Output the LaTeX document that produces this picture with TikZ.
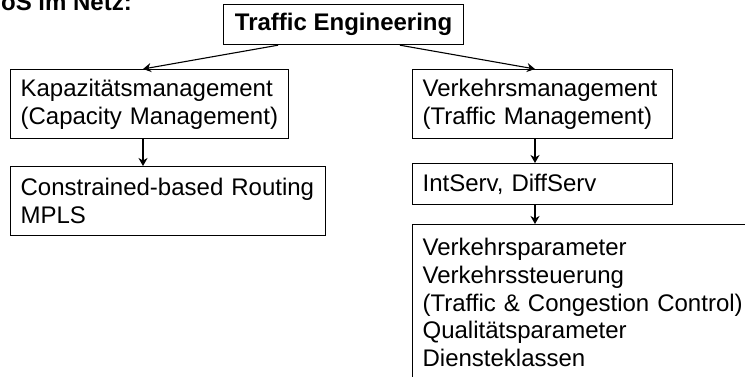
\documentclass[tikz,border=0pt]{standalone}
\usepackage{fontspec}
\setmainfont{Liberation Sans}
\usetikzlibrary{arrows.meta,calc}
\begin{document}
\begin{tikzpicture}[x=1pt,y=-1pt,
  every node/.style={font=\fontsize{24}{27.6}\selectfont},
  box/.style={draw,line width=1.2pt,align=left,inner xsep=10pt,inner ysep=0pt,anchor=north west},
  conn/.style={line width=1.1pt,-{Stealth[length=8pt,width=9pt,inset=2.5pt]}}]
\useasboundingbox (0,0) rectangle (745,377);
\clip (0,0) rectangle (745,377);
% heading
\node[anchor=base east,inner sep=0pt,font=\fontsize{24}{27.6}\selectfont\bfseries] (title) at (132,11) {QoS im Netz:};
% root
\node[draw,line width=1.2pt,anchor=north west,minimum width=240pt,minimum height=40pt,inner sep=0pt,
      font=\fontsize{24}{27.6}\selectfont\bfseries] (te) at (223,4) {Traffic Engineering};
% left branch
\node[box,text width=258pt,minimum height=69pt] (kap) at (10,69)
  {Kapazitätsmanagement\\(Capacity Management)};
\node[box,text width=295pt,minimum height=69pt] (cbr) at (10,166)
  {Constrained-based Routing\\MPLS};
% right branch
\node[box,text width=240pt,minimum height=69pt] (vm) at (412,69)
  {Verkehrsmanagement\\(Traffic Management)};
\node[box,text width=240pt,minimum height=41pt] (int) at (412,163)
  {IntServ, DiffServ};
\node[box,text width=328pt,inner ysep=14pt] (par) at (412,224)
  {Verkehrsparameter\\Verkehrssteuerung\\(Traffic \& Congestion Control)\\Qualitätsparameter\\Diensteklassen};
% connectors
\draw[conn] ($(te.south west)+(55,0)$) -- ($(kap.north west)+(133,0)$);
\draw[conn] ($(te.south west)+(177,0)$) -- ($(vm.north west)+(123,0)$);
\draw[conn] ($(kap.south west)+(133,0)$) -- ($(cbr.north west)+(133,0)$);
\draw[conn] ($(vm.south west)+(123,0)$) -- ($(int.north west)+(123,0)$);
\draw[conn] ($(int.south west)+(123,0)$) -- ($(par.north west)+(123,0)$);
\end{tikzpicture}
\end{document}
